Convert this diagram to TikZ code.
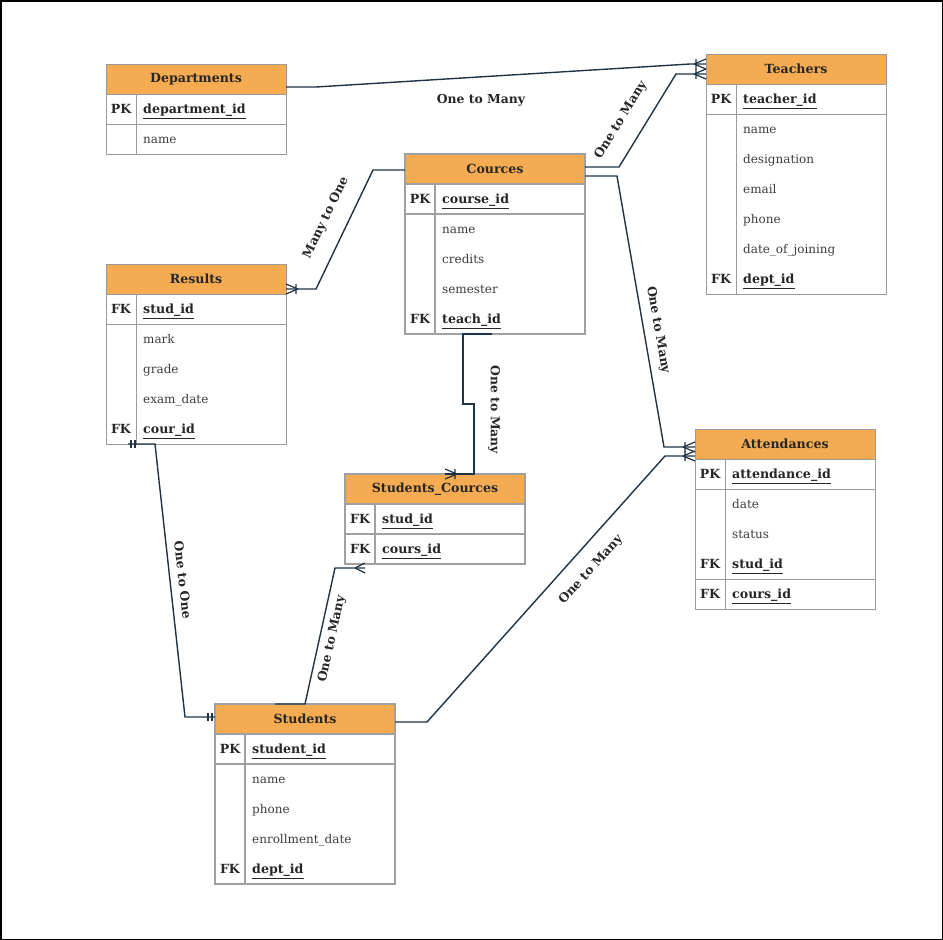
\documentclass[tikz,border=0pt]{standalone}
\usepackage{fontspec}
\setmainfont{DejaVu Serif}
\usetikzlibrary{calc}

\definecolor{hdrfill}{HTML}{F4AB52}
\definecolor{edgecol}{HTML}{1E3446}
\definecolor{thinline}{HTML}{9A9A9A}
\definecolor{thickline}{HTML}{A0A0A0}
\definecolor{txt}{HTML}{262626}

\tikzset{
  thinb/.style={draw=thinline, line width=1pt},
  thickb/.style={draw=thickline, line width=2pt},
  tbl/.style={anchor=north west, minimum width=180pt, inner sep=0pt, outer sep=0pt},
  hdr/.style={fill=hdrfill, anchor=north west, minimum width=180pt, minimum height=30pt,
    inner sep=0pt, outer sep=0pt, text=txt, font=\bfseries\fontsize{12.6}{14}\selectfont},
  keytxt/.style={anchor=base, text=txt, inner sep=0pt, font=\bfseries\fontsize{12.6}{14}\selectfont},
  keyfield/.style={anchor=base west, text=txt, inner sep=0pt, font=\bfseries\fontsize{12.6}{14}\selectfont},
  fieldtxt/.style={anchor=base west, text=txt!90, inner sep=0pt, font=\fontsize{12}{14}\selectfont},
  rel/.style={draw=edgecol, line width=1.4pt, line join=miter},
  lbl/.style={text=txt, inner sep=0pt, font=\bfseries\fontsize{12.4}{14}\selectfont},
}

% table frame: name, x, y, height, border style, title
\newcommand\ertable[6]{%
  \node[tbl,#5,minimum height=#4pt] (#1) at (#2,#3) {};
  \node[hdr,#5] (#1-h) at (#2,#3) {#6};
  \draw[#5] (#2+30,#3+30) -- (#2+30,#3+#4);
  \draw[#5] (#2,#3+60) -- ++(180,0);
}
% key row: node name, table x, row centre y, key label, field name
\newcommand\erkey[5]{%
  \node[keytxt] (#1k) at (#2+15,#3+4.5) {#4};
  \node[keyfield] (#1) at (#2+37,#3+4.5) {\underline{#5}};
}
% plain attribute: node name, table x, row centre y, text
\newcommand\erattr[4]{\node[fieldtxt] (#1) at (#2+37,#3+4) {#4};}
% crow's foot (many) with a bar, prongs ending at the given point
\newcommand\crowbar[2][]{%
  \begin{scope}[shift={#2},#1]
    \draw[rel,line width=1.2pt] (-12,0) -- (0,-5) (-12,0) -- (0,5) (-10,-5) -- (-10,5);
  \end{scope}}
% crow's foot without a bar
\newcommand\crowplain[2][]{%
  \begin{scope}[shift={#2},#1]
    \draw[rel,line width=1.2pt] (-10,0) -- (0,-5) (-10,0) -- (0,5);
  \end{scope}}
% one-and-only-one double bar
\newcommand\onebar[2][]{%
  \begin{scope}[shift={#2},#1]
    \draw[rel,line width=1.2pt] (3,-4) -- (3,4) (7,-4) -- (7,4);
  \end{scope}}

\begin{document}
\begin{tikzpicture}[x=1pt,y=-1pt]
\useasboundingbox (0,0) rectangle (943,940);
\draw[black, line width=1.5pt] (0.75,0.75) rectangle (942.25,939.25);

% ---------------- Departments ----------------
\ertable{dep}{106}{64}{90}{thinb}{Departments}
\draw[thinb] (106,124) -- ++(180,0);
\erkey{depid}{106}{109}{PK}{department\_id}
\erattr{depname}{106}{139}{name}

% ---------------- Teachers ----------------
\ertable{tea}{706}{54}{240}{thinb}{Teachers}
\erkey{teaid}{706}{99}{PK}{teacher\_id}
\erattr{teaname}{706}{129}{name}
\erattr{teades}{706}{159}{designation}
\erattr{teamail}{706}{189}{email}
\erattr{teaphone}{706}{219}{phone}
\erattr{teadoj}{706}{249}{date\_of\_joining}
\erkey{teadept}{706}{279}{FK}{dept\_id}

% ---------------- Cources ----------------
\ertable{crs}{405}{154}{180}{thickb}{Cources}
\erkey{crsid}{405}{199}{PK}{course\_id}
\erattr{crsname}{405}{229}{name}
\erattr{crscred}{405}{259}{credits}
\erattr{crssem}{405}{289}{semester}
\erkey{crsteach}{405}{319}{FK}{teach\_id}

% ---------------- Results ----------------
\ertable{res}{106}{264}{180}{thinb}{Results}
\erkey{resstud}{106}{309}{FK}{stud\_id}
\erattr{resmark}{106}{339}{mark}
\erattr{resgrade}{106}{369}{grade}
\erattr{resdate}{106}{399}{exam\_date}
\erkey{rescour}{106}{429}{FK}{cour\_id}

% ---------------- Students_Cources ----------------
\ertable{sc}{345}{474}{90}{thickb}{Students\_Cources}
\erkey{scstud}{345}{519}{FK}{stud\_id}
\erkey{sccour}{345}{549}{FK}{cours\_id}

% ---------------- Attendances ----------------
\ertable{att}{695}{429}{180}{thinb}{Attendances}
\draw[thinb] (695,579) -- ++(180,0);
\erkey{attid}{695}{474}{PK}{attendance\_id}
\erattr{attdate}{695}{504}{date}
\erattr{attstatus}{695}{534}{status}
\erkey{attstud}{695}{564}{FK}{stud\_id}
\erkey{attcour}{695}{594}{FK}{cours\_id}

% ---------------- Students ----------------
\ertable{stu}{215}{704}{180}{thickb}{Students}
\erkey{stuid}{215}{749}{PK}{student\_id}
\erattr{stuname}{215}{779}{name}
\erattr{stuphone}{215}{809}{phone}
\erattr{stuenr}{215}{839}{enrollment\_date}
\erkey{studept}{215}{869}{FK}{dept\_id}

% ---------------- relationships ----------------
% Departments -> Teachers
\coordinate (e1) at ($(tea-h.west)+(0,-5)$);
\draw[rel] ($(dep-h.east)+(0,8)$) -- ++(30,0) -- ($(e1)+(-16,0)$) -- (e1);
\crowbar{(e1)}
\node[lbl] (l1) at (481,100) {One to Many};

% Cources -> Teachers
\coordinate (e2) at ($(tea-h.west)+(0,5)$);
\draw[rel] ($(crs-h.east)+(0,-2)$) -- ++(34,0) -- ($(e2)+(-30,0)$) -- (e2);
\crowbar{(e2)}
\node[lbl, rotate=58.5] (l2) at (621,120) {One to Many};

% Cources -> Attendances
\coordinate (e3) at ($(att-h.west)+(0,3)$);
\draw[rel] ($(crs-h.east)+(0,7)$) -- ++(32,0) -- ($(e3)+(-31,0)$) -- (e3);
\crowbar{(e3)}
\node[lbl, rotate=-80] (l3) at (658,330) {One to Many};

% Students -> Attendances
\coordinate (e4) at ($(att-h.west)+(0,12)$);
\draw[rel] ($(stu-h.east)+(0,3)$) -- ++(32,0) -- ($(e4)+(-30,0)$) -- (e4);
\crowbar{(e4)}
\node[lbl, rotate=48] (l4) at (591,570) {One to Many};

% Cources -> Results
\coordinate (e5) at ($(res-h.east)+(0,10)$);
\draw[rel] ($(crs-h.west)+(0,1)$) -- ++(-32,0) -- ($(e5)+(30,0)$) -- (e5);
\crowbar[xscale=-1]{(e5)}
\node[lbl, rotate=64] (l5) at (326,218) {Many to One};

% Cources -> Students_Cources
\coordinate (e6) at ($(sc-h.north)+(10,0)$);
\draw[rel] ($(crs.south)+(-3,0)$) -- (463,334) -- (463,404) -- (474,404) -- ($(sc-h.north)+(39,0)$) -- (e6);
\crowbar[xscale=-1]{(e6)}
\node[lbl, rotate=-90] (l6) at (494,410) {One to Many};

% Students -> Students_Cources
\coordinate (e7) at ($(sc.south)+(-70,4)$);
\draw[rel] ($(stu-h.north)+(-30,0)$) -- (stu-h.north) -- ($(e7)+(-30,0)$) -- (e7);
\crowplain{(e7)}
\node[lbl, rotate=77.5] (l7) at (332,639) {One to Many};

% Results -> Students
\coordinate (s8) at ($(res.south west)+(22,0)$);
\coordinate (e8) at ($(stu-h.west)+(0,-2)$);
\draw[rel] (s8) -- ($(res.south west)+(49,0)$) -- ($(e8)+(-30,0)$) -- (e8);
\onebar{(s8)}
\onebar[xscale=-1]{(e8)}
\node[lbl, rotate=-83.7] (l8) at (183,580) {One to One};
\end{tikzpicture}
\end{document}
